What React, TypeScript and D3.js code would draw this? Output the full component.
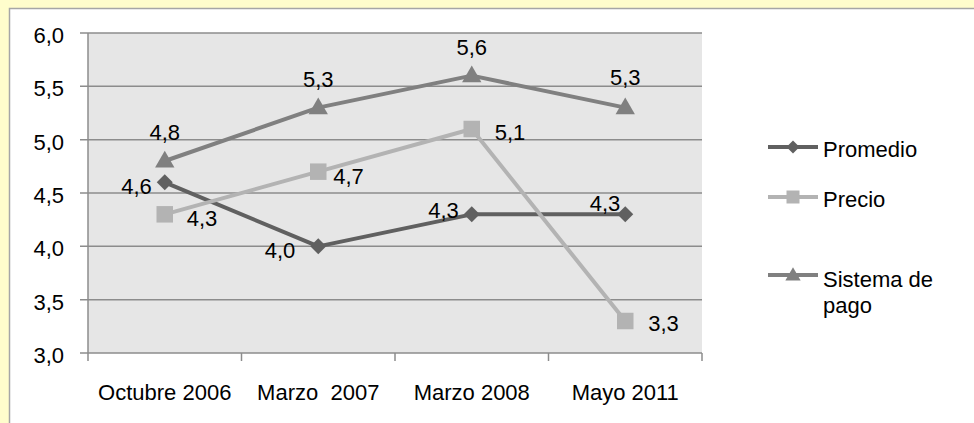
import React from 'react';
import * as d3 from 'd3';

const categories = ['Octubre 2006', 'Marzo  2007', 'Marzo 2008', 'Mayo 2011'];
const promedio = [4.6, 4.0, 4.3, 4.3];
const precio = [4.3, 4.7, 5.1, 3.3];
const sistema = [4.8, 5.3, 5.6, 5.3];
const yTicks = [3.0, 3.5, 4.0, 4.5, 5.0, 5.5, 6.0];

// label nudges are [dx, dy] from the point to the text baseline
const series = [
  {
    name: ['Promedio'], values: promedio, color: '#606060', marker: 'diamond', anchor: 'end',
    nudge: [[-13, 12], [-23, 12], [-13, 4], [-5, -3]],
  },
  {
    name: ['Precio'], values: precio, color: '#b3b3b3', marker: 'square', anchor: 'start',
    nudge: [[22, 12], [15, 12], [23, 11], [23, 10]],
  },
  {
    name: ['Sistema de', 'pago'], values: sistema, color: '#808080', marker: 'triangle', anchor: 'middle',
    nudge: [[0, -21], [0, -21], [0, -21], [0, -23]],
  },
];

const W = 974;
const H = 423;
const plot = { left: 88, right: 702, top: 33, bottom: 353 };
const fmt = (v: number) => v.toFixed(1).replace('.', ',');
const FONT = 22;

function Marker({ kind, color, size }: { kind: string; color: string; size: number }) {
  if (kind === 'diamond') {
    return <path d={d3.symbol(d3.symbolSquare, size * size * 0.5)() || ''} transform="rotate(45)" fill={color} />;
  }
  if (kind === 'square') {
    return <path d={d3.symbol(d3.symbolSquare, size * size)() || ''} fill={color} />;
  }
  return <path d={d3.symbol(d3.symbolTriangle, size * size * 0.45)() || ''} transform="translate(0,1)" fill={color} />;
}

export default function App() {
  const x = d3.scaleBand<string>().domain(categories).range([plot.left, plot.right]);
  const y = d3.scaleLinear().domain([3, 6]).range([plot.bottom, plot.top]);
  const cx = (c: string) => (x(c) as number) + x.bandwidth() / 2;

  const line = d3
    .line<number>()
    .x((_, i) => cx(categories[i]))
    .y((d) => y(d));

  const legendY = [147, 197, 275];

  return (
    <div style={{ position: 'fixed', left: 0, top: 0 }}>
      <svg width={W} height={H} style={{ display: 'block', fontFamily: 'Liberation Sans, Arial, sans-serif' }}>
        <rect x={0} y={0} width={W} height={H} fill="#fffdcc" />
        <rect x={9.5} y={8.5} width={W} height={H} fill="#ffffff" stroke="#a6a6a6" strokeWidth={1.5} />
        <rect x={plot.left} y={plot.top} width={plot.right - plot.left} height={plot.bottom - plot.top} fill="#e6e6e6" />

        {yTicks.map((t) => (
          <g key={t}>
            <line x1={plot.left - 8} x2={plot.right} y1={y(t)} y2={y(t)} stroke="#8c8c8c" strokeWidth={1.5} />
            <text x={64} y={y(t) + 10} textAnchor="end" fontSize={FONT} fill="#000">
              {fmt(t)}
            </text>
          </g>
        ))}
        <line x1={plot.left} x2={plot.left} y1={plot.top} y2={plot.bottom + 8} stroke="#8c8c8c" strokeWidth={1.5} />
        {categories.map((c, i) => (
          <line
            key={'t' + i}
            x1={(x(c) as number) + x.bandwidth()}
            x2={(x(c) as number) + x.bandwidth()}
            y1={plot.bottom}
            y2={plot.bottom + 8}
            stroke="#8c8c8c"
            strokeWidth={1.5}
          />
        ))}
        {categories.map((c) => (
          <text key={c} x={cx(c)} y={400} textAnchor="middle" fontSize={FONT} fill="#000" style={{ whiteSpace: 'pre' }}>
            {c}
          </text>
        ))}

        {series.map((s) => (
          <g key={s.name[0]}>
            <path d={line(s.values) || ''} fill="none" stroke={s.color} strokeWidth={4} strokeLinejoin="round" />
            {s.values.map((v, i) => (
              <g key={i} transform={`translate(${cx(categories[i])},${y(v)})`}>
                <Marker kind={s.marker} color={s.color} size={s.marker === 'triangle' ? 19 : s.marker === 'diamond' ? 16 : 16.5} />
              </g>
            ))}
            {s.values.map((v, i) => (
              <text
                key={'l' + i}
                x={cx(categories[i]) + s.nudge[i][0]}
                y={y(v) + s.nudge[i][1]}
                textAnchor={s.anchor}
                fontSize={FONT}
                fill="#000"
              >
                {fmt(v)}
              </text>
            ))}
          </g>
        ))}

        {series.map((s, k) => (
          <g key={'lg' + k} transform={`translate(768,${legendY[k]})`}>
            <line x1={0} x2={50} y1={0} y2={0} stroke={s.color} strokeWidth={4} />
            <g transform="translate(25,0)">
              <Marker kind={s.marker} color={s.color} size={s.marker === 'triangle' ? 15 : s.marker === 'diamond' ? 13 : 13} />
            </g>
            {s.name.map((n, j) => (
              <text key={n} x={55} y={10 + (s.name.length > 1 ? 2 : 0) + j * 26} fontSize={FONT} fill="#000">
                {n}
              </text>
            ))}
          </g>
        ))}
      </svg>
    </div>
  );
}
